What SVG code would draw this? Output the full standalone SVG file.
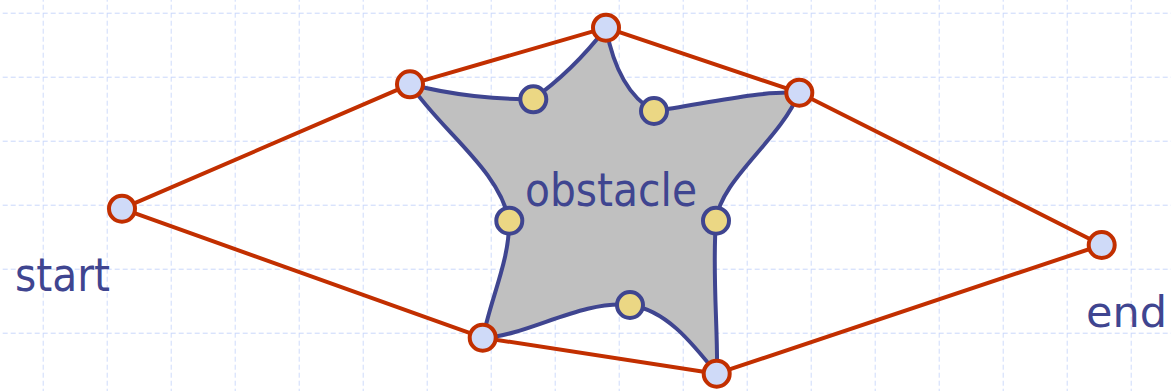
<svg xmlns="http://www.w3.org/2000/svg" width="1171" height="391" viewBox="0 0 1171 391">
  <defs>
    <pattern id="grid" x="42.7" y="12.7" width="64" height="64" patternUnits="userSpaceOnUse">
      <path d="M0,0 H64 M0,0 V64" fill="none" stroke="#c9d7fb" stroke-width="1.8" stroke-dasharray="5 3"/>
    </pattern>
  </defs>
  <style>
    .edge { stroke: #c22f00; stroke-width: 4; fill: none; stroke-linecap: round; }
    .vertex { fill: #cfdaf8; stroke: #c22f00; stroke-width: 4; }
    .corner { fill: #ebd784; stroke: #3f4590; stroke-width: 4; }
    .obstacle { fill: #c0c0c0; stroke: #3f4590; stroke-width: 4; stroke-linejoin: round; }
    .label { font-family: "DejaVu Sans", Verdana, sans-serif; font-size: 47px; fill: #3f4590; }
  </style>

  <!-- background grid -->
  <rect width="1171" height="391" fill="#ffffff"/>
  <rect width="1171" height="391" fill="url(#grid)"/>

  <!-- obstacle polygon with curved, inward-bowing sides -->
  <g id="obstacle">
    <path class="obstacle" d="M410,84
      C450,95 500,100 533,99
      C560,80 585,55 606,28
      C612,60 625,95 654,111
      C700,105 760,90 799,93
      C780,140 720,180 716,221
      C712,270 718,330 717,374
      C690,340 665,310 630,305
      C580,300 530,335 483,338
      C490,300 510,260 509,221
      C500,170 440,130 410,84 Z"/>
    <text class="label" x="611" y="206" text-anchor="middle" textLength="172" lengthAdjust="spacingAndGlyphs">obstacle</text>
  </g>

  <!-- visibility path edges -->
  <g id="connectors">
    <line class="edge" x1="122" y1="208.7" x2="410" y2="84.3"/>
    <line class="edge" x1="122" y1="208.7" x2="482.7" y2="337.7"/>
    <line class="edge" x1="410" y1="84.3" x2="606" y2="27.7"/>
    <line class="edge" x1="606" y1="27.7" x2="799.3" y2="92.7"/>
    <line class="edge" x1="799.3" y1="92.7" x2="1101.7" y2="245"/>
    <line class="edge" x1="482.7" y1="337.7" x2="716.7" y2="373.7"/>
    <line class="edge" x1="716.7" y1="373.7" x2="1101.7" y2="245"/>
  </g>

  <!-- obstacle concave corners -->
  <g id="corner-1"><circle class="corner" cx="533.3" cy="99.3" r="13"/></g>
  <g id="corner-2"><circle class="corner" cx="654" cy="111" r="13"/></g>
  <g id="corner-3"><circle class="corner" cx="509.3" cy="220.7" r="13"/></g>
  <g id="corner-4"><circle class="corner" cx="716" cy="220.7" r="13"/></g>
  <g id="corner-5"><circle class="corner" cx="630" cy="305" r="13"/></g>

  <!-- path vertices -->
  <g id="start">
    <circle class="vertex" cx="122" cy="208.7" r="13"/>
    <text class="label" x="15" y="291" textLength="95" lengthAdjust="spacingAndGlyphs">start</text>
  </g>
  <g id="vertex-tl"><circle class="vertex" cx="410" cy="84.3" r="13"/></g>
  <g id="vertex-top"><circle class="vertex" cx="606" cy="27.7" r="13"/></g>
  <g id="vertex-tr"><circle class="vertex" cx="799.3" cy="92.7" r="13"/></g>
  <g id="vertex-bl"><circle class="vertex" cx="482.7" cy="337.7" r="13"/></g>
  <g id="vertex-bottom"><circle class="vertex" cx="716.7" cy="373.7" r="13"/></g>
  <g id="end">
    <circle class="vertex" cx="1101.7" cy="245" r="13"/>
    <text class="label" x="1086" y="327" style="font-size:43px">end</text>
  </g>
</svg>
